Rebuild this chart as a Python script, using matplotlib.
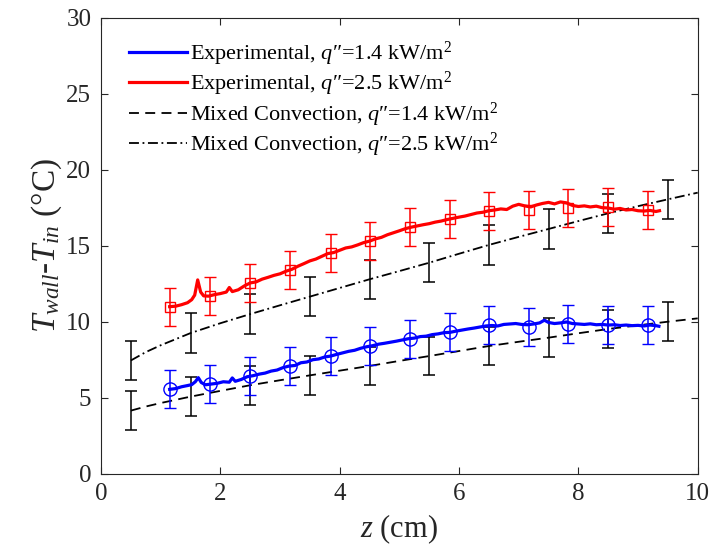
import numpy as np
import matplotlib
matplotlib.use('Agg')
from matplotlib import pyplot as plt

plt.rcParams['font.family'] = ['Liberation Serif', 'DejaVu Serif']
plt.rcParams['mathtext.fontset'] = 'custom'
plt.rcParams['mathtext.rm'] = 'Liberation Serif'
plt.rcParams['mathtext.it'] = 'Liberation Serif:italic'

# experimental traces
z_exp14 = [1.15, 1.25, 1.35, 1.45, 1.52, 1.58, 1.63, 1.68, 1.75, 1.85, 1.95, 2.05, 2.15, 2.20, 2.25,
           2.35, 2.45, 2.55, 2.65, 2.75, 2.85, 2.95, 3.05, 3.15, 3.25, 3.35, 3.45, 3.55, 3.65, 3.75,
           3.85, 3.95, 4.05, 4.15, 4.25, 4.35, 4.45, 4.55, 4.65, 4.75, 4.85, 4.95, 5.05, 5.15, 5.25,
           5.35, 5.45, 5.55, 5.65, 5.75, 5.85, 5.95, 6.05, 6.15, 6.25, 6.35, 6.45, 6.55, 6.65, 6.75,
           6.85, 6.95, 7.05, 7.15, 7.25, 7.35, 7.43, 7.50, 7.60, 7.70, 7.80, 7.90, 8.00, 8.10, 8.20,
           8.30, 8.40, 8.50, 8.60, 8.70, 8.80, 8.90, 9.00, 9.10, 9.20, 9.30, 9.35]
T_exp14 = [5.55, 5.60, 5.72, 5.80, 5.86, 6.05, 6.32, 6.00, 5.85, 5.90, 5.95, 6.05, 6.02, 6.30, 6.08,
           6.20, 6.38, 6.45, 6.55, 6.62, 6.75, 6.82, 6.98, 7.08, 7.12, 7.30, 7.35, 7.50, 7.55, 7.68,
           7.74, 7.85, 7.95, 8.05, 8.12, 8.25, 8.35, 8.42, 8.52, 8.58, 8.65, 8.72, 8.80, 8.88, 8.92,
           9.02, 9.05, 9.15, 9.20, 9.28, 9.30, 9.38, 9.45, 9.52, 9.58, 9.65, 9.72, 9.75, 9.72, 9.82,
           9.85, 9.88, 9.82, 9.80, 9.85, 9.92, 10.10, 9.95, 9.88, 9.92, 9.98, 9.88, 9.85, 9.82, 9.86,
           9.80, 9.82, 9.78, 9.80, 9.75, 9.78, 9.74, 9.76, 9.72, 9.78, 9.74, 9.70]

z_exp25 = [1.15, 1.25, 1.35, 1.45, 1.52, 1.57, 1.62, 1.67, 1.72, 1.80, 1.90, 2.00, 2.10, 2.15, 2.20,
           2.30, 2.40, 2.50, 2.60, 2.70, 2.80, 2.90, 3.00, 3.10, 3.20, 3.30, 3.40, 3.50, 3.60, 3.70,
           3.80, 3.90, 4.00, 4.10, 4.20, 4.30, 4.40, 4.50, 4.60, 4.70, 4.80, 4.90, 5.00, 5.10, 5.20,
           5.30, 5.40, 5.50, 5.60, 5.70, 5.80, 5.90, 6.00, 6.10, 6.20, 6.30, 6.40, 6.50, 6.60, 6.70,
           6.80, 6.90, 7.00, 7.10, 7.20, 7.30, 7.40, 7.50, 7.60, 7.70, 7.80, 7.90, 8.00, 8.10, 8.20,
           8.30, 8.40, 8.50, 8.60, 8.70, 8.80, 8.90, 9.00, 9.10, 9.20, 9.30, 9.36]
T_exp25 = [10.99, 11.02, 11.12, 11.25, 11.45, 11.75, 12.75, 11.95, 11.70, 11.68, 11.78, 11.85, 11.95, 12.25, 11.98,
           12.10, 12.35, 12.55, 12.62, 12.80, 12.92, 13.05, 13.15, 13.32, 13.45, 13.65, 13.82, 14.00, 14.12, 14.30,
           14.48, 14.55, 14.70, 14.85, 14.92, 15.05, 15.20, 15.30, 15.45, 15.55, 15.72, 15.85, 15.98, 16.12, 16.22,
           16.30, 16.38, 16.45, 16.55, 16.62, 16.72, 16.80, 16.88, 16.95, 17.05, 17.15, 17.20, 17.30, 17.35, 17.42,
           17.38, 17.60, 17.72, 17.62, 17.55, 17.68, 17.78, 17.85, 17.75, 17.88, 17.82, 17.65, 17.58, 17.62, 17.55,
           17.60, 17.50, 17.48, 17.40, 17.45, 17.35, 17.38, 17.30, 17.28, 17.32, 17.25, 17.30]

# experimental markers with error bars
z_mark = [1.15, 1.83, 2.50, 3.17, 3.85, 4.51, 5.18, 5.85, 6.51, 7.18, 7.83, 8.50, 9.17]
T_mark14 = [5.55, 5.88, 6.43, 7.10, 7.74, 8.42, 8.88, 9.30, 9.78, 9.63, 9.83, 9.78, 9.78]
T_mark25 = [10.99, 11.71, 12.57, 13.40, 14.54, 15.31, 16.21, 16.76, 17.30, 17.35, 17.46, 17.57, 17.35]
err_mark14 = [1.25] * 13
err_mark25 = [1.25] * 13

# mixed convection correlation
z_mc = [0.5, 0.75, 1.0, 1.5, 2.0, 2.5, 3.0, 3.5, 4.0, 4.5, 5.0, 5.5, 6.0, 6.5, 7.0, 7.5, 8.0, 8.5, 9.0, 9.5, 10.0]
T_mc14 = [4.15, 4.42, 4.65, 5.07, 5.45, 5.82, 6.15, 6.47, 6.78, 7.09, 7.42, 7.74, 8.07, 8.40, 8.68, 8.95,
          9.24, 9.52, 9.76, 10.00, 10.22]
T_mc25 = [7.45, 8.00, 8.45, 9.25, 9.90, 10.50, 11.08, 11.65, 12.22, 12.79, 13.33, 13.88, 14.47, 15.05, 15.58,
          16.10, 16.62, 17.13, 17.60, 18.05, 18.49]
z_bar = [0.5, 1.5, 2.5, 3.5, 4.5, 5.5, 6.5, 7.5, 8.5, 9.5]
T_bar14 = [4.15, 5.07, 5.82, 6.47, 7.09, 7.74, 8.40, 8.95, 9.52, 10.00]
T_bar25 = [7.45, 9.25, 10.50, 11.65, 12.79, 13.88, 15.05, 16.10, 17.13, 18.05]
err_bar14 = [1.27] * 10
err_bar25 = [1.30] * 10

fig = plt.figure(figsize=(7.15, 5.56), dpi=100)
ax = fig.add_axes([0.1413, 0.148, 0.8345, 0.8202])

blue = (0, 0, 1)
red = (1, 0, 0)
ec = '#262626'

# mixed convection
l3, = ax.plot(z_mc, T_mc14, color='k', lw=1.3, dashes=(5.5, 3.5))
l4, = ax.plot(z_mc, T_mc25, color='k', lw=1.3, dashes=(5.5, 2, 1, 2))
ax.errorbar(z_bar, T_bar14, yerr=err_bar14, fmt='none', ecolor='k', elinewidth=1.1, capsize=4.5, capthick=1.1)
ax.errorbar(z_bar, T_bar25, yerr=err_bar25, fmt='none', ecolor='k', elinewidth=1.1, capsize=4.5, capthick=1.1)

# experimental
ax.errorbar(z_mark, T_mark14, yerr=err_mark14, fmt='o', color=blue, mfc='none', mec=blue, ms=9.5,
            mew=1.0, elinewidth=1.1, capsize=4.5, capthick=1.1)
ax.errorbar(z_mark, T_mark25, yerr=err_mark25, fmt='s', color=red, mfc='none', mec=red, ms=7.5,
            mew=1.0, elinewidth=1.1, capsize=4.5, capthick=1.1)
l1, = ax.plot(z_exp14, T_exp14, color=blue, lw=2.3)
l2, = ax.plot(z_exp25, T_exp25, color=red, lw=2.3)

ax.set_xlim(0, 10)
ax.set_ylim(0, 30)
ax.set_xticks([0, 2, 4, 6, 8, 10])
ax.set_yticks([0, 5, 10, 15, 20, 25, 30])
ax.tick_params(direction='in', length=5, width=0.8, top=True, right=True, labelsize=18, colors=ec, pad=7)
for s in ax.spines.values():
    s.set_color(ec)
    s.set_linewidth(0.8)

ax.set_xlabel('$z$ (cm)', fontsize=22, color=ec, labelpad=5)
ax.set_ylabel('$T_{wall}$-$T_{in}$ (°C)', fontsize=24, color=ec, labelpad=2)

labels = ['Experimental, $q$″=1.4 kW/m$^2$',
          'Experimental, $q$″=2.5 kW/m$^2$',
          'Mixed Convection, $q$″=1.4 kW/m$^2$',
          'Mixed Convection, $q$″=2.5 kW/m$^2$']
ax.legend([l1, l2, l3, l4], labels, loc='upper left', bbox_to_anchor=(0.047, 0.952), frameon=False,
          fontsize=16, handlelength=2.6, handletextpad=0.15, labelspacing=0.1, borderpad=0,
          borderaxespad=0)

fig.savefig('out.png', dpi=100)
